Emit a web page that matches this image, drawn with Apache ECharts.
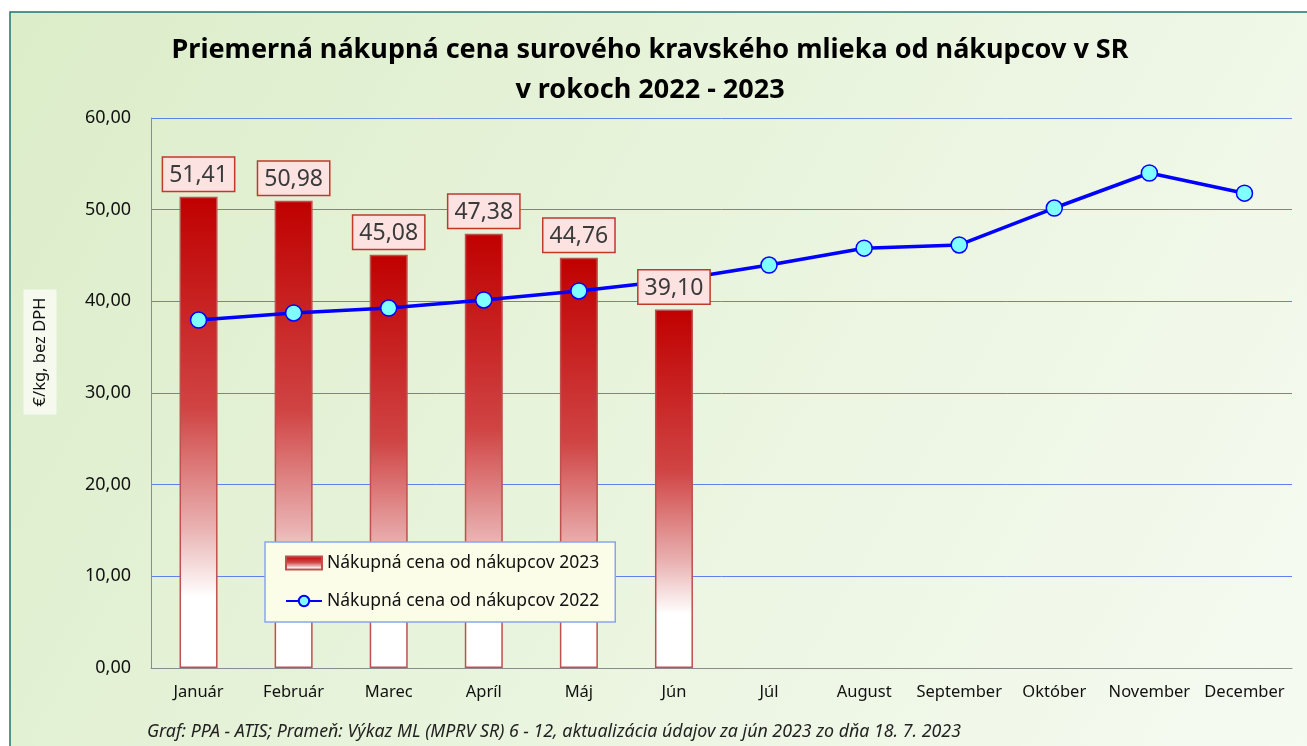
<!DOCTYPE html>
<html>
<head>
<meta charset="utf-8">
<script src="https://cdn.jsdelivr.net/npm/echarts@6/dist/echarts.min.js"></script>
<style>
  html, body { margin: 0; padding: 0; background: #fff; }
  #chart { width: 1307px; height: 746px; }
</style>
</head>
<body>
<div id="chart"></div>
<script>
var months = ['Január', 'Február', 'Marec', 'Apríl', 'Máj', 'Jún', 'Júl', 'August', 'September', 'Október', 'November', 'December'];
var price2023 = [51.41, 50.98, 45.08, 47.38, 44.76, 39.10];
var price2022 = [37.96, 38.73, 39.27, 40.15, 41.13, 42.3, 43.96, 45.8, 46.15, 50.18, 54.0, 51.8];
var yTicks = { min: 0, max: 60, interval: 10 };

var fmt = function (v) { return Number(v).toFixed(2).replace('.', ','); };
var font = '"Noto Sans", "Open Sans", sans-serif';

var barColor = new echarts.graphic.LinearGradient(0, 0, 0, 1, [
    {offset: 0, color: '#c00000'},
    {offset: 0.45, color: '#d04444'},
    {offset: 0.7, color: '#e9b0b0'},
    {offset: 0.85, color: '#ffffff'},
    {offset: 1, color: '#ffffff'}
]);

var myChart = echarts.init(document.getElementById('chart'));

var option = {
    textStyle: {fontFamily: font},
    graphic: [
        {
            type: 'rect', z: -10, silent: true,
            shape: {x: 10, y: 12, width: 1310, height: 750},
            style: {
                fill: new echarts.graphic.LinearGradient(0, 0, 1, 1, [
                    {offset: 0, color: '#dcedc9'},
                    {offset: 1, color: '#f6fbf2'}
                ]),
                stroke: '#1f7373', lineWidth: 1.5
            }
        },
        {
            // y axis title
            type: 'text', x: 40, y: 352, rotation: Math.PI / 2, silent: true,
            style: {
                text: '€/kg, bez DPH', font: '16.5px ' + font, fill: '#111',
                align: 'center', verticalAlign: 'middle',
                backgroundColor: '#f5f9ee', padding: [8, 8]
            }
        },
        {
            type: 'text', left: 147, top: 723, silent: true,
            style: {
                text: 'Graf: PPA - ATIS; Prameň: Výkaz ML (MPRV SR) 6 - 12, aktualizácia údajov za jún 2023 zo dňa 18. 7. 2023',
                font: 'italic 17.8px ' + font, fill: '#222'
            }
        }
    ],
    title: {
        text: 'Priemerná nákupná cena surového kravského mlieka od nákupcov v SR\nv rokoch 2022 - 2023',
        left: 645, textAlign: 'center', top: 25,
        textStyle: {fontSize: 27, fontWeight: 'bold', color: '#000', lineHeight: 40, fontFamily: font}
    },
    legend: {
        orient: 'vertical', left: 265, top: 542,
        padding: [12, 16, 12, 20], itemGap: 20,
        itemWidth: 36, itemHeight: 13,
        backgroundColor: '#fbfde9', borderColor: '#8aa4f5', borderWidth: 1.5,
        textStyle: {fontSize: 17.5, color: '#111'},
        data: [
            {name: 'Nákupná cena od nákupcov 2023', icon: 'rect'},
            {name: 'Nákupná cena od nákupcov 2022'}
        ]
    },
    grid: {left: 151, right: 15, top: 118, bottom: 78},
    xAxis: [{
        type: 'category', data: months,
        axisLine: {lineStyle: {color: '#8c8c8c'}},
        axisTick: {show: false},
        axisLabel: {fontSize: 16.5, color: '#111', margin: 16, interval: 0}
    }],
    yAxis: [{
        type: 'value', min: yTicks.min, max: yTicks.max, interval: yTicks.interval,
        axisLine: {show: true, lineStyle: {color: '#8c8c8c'}},
        axisTick: {show: false},
        axisLabel: {fontSize: 18, color: '#111', margin: 20, formatter: fmt},
        splitLine: {lineStyle: {color: '#5f80ee', width: 1}}
    }],
    series: [
        {
            name: 'Nákupná cena od nákupcov 2023',
            type: 'bar', barWidth: 38, z: 2,
            itemStyle: {color: barColor, borderColor: '#c0504d', borderWidth: 1.5},
            data: price2023
        },
        {
            name: 'Nákupná cena od nákupcov 2022',
            type: 'line', z: 3,
            symbol: 'circle', symbolSize: 16,
            lineStyle: {color: '#0000ff', width: 3.5},
            itemStyle: {color: '#80ffff', borderColor: '#0000ff', borderWidth: 1.5},
            data: price2022
        },
        {
            name: 'labels',
            type: 'bar', barWidth: 38, barGap: '-100%', z: 5, silent: true,
            itemStyle: {color: 'rgba(0,0,0,0)'},
            label: {
                show: true, position: 'top', distance: 6,
                formatter: function (p) { return fmt(p.value); },
                fontSize: 23, color: '#3a3a3a',
                backgroundColor: '#fde2e2', borderColor: '#c0392b', borderWidth: 1.5,
                padding: [6, 6, 4, 6]
            },
            data: price2023
        }
    ]
};

myChart.setOption(option);
</script>
</body>
</html>
